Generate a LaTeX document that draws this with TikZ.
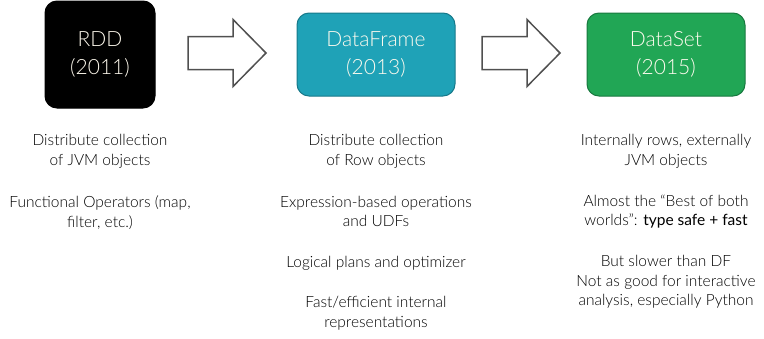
\documentclass[tikz,border=0pt]{standalone}
\usepackage{fontspec}
\setmainfont{Lato}
\newfontfamily\lightfont{Lato Light}
\usepackage{xcolor}

\definecolor{dfteal}{HTML}{1FA2B7}
\definecolor{dfedge}{HTML}{17798A}
\definecolor{dsgreen}{HTML}{21A655}
\definecolor{dsedge}{HTML}{18793F}
\definecolor{arrowgray}{HTML}{505050}
\definecolor{boxtext}{HTML}{FFFBEF}
\definecolor{notetext}{HTML}{000000}

\begin{document}
\begin{tikzpicture}[x=1pt,y=-1pt]
  \tikzset{EraBox/.style={rounded corners=12pt, minimum width=158pt, minimum height=83pt,
      line width=1pt, align=center, text=boxtext, font=\fontsize{21}{28}\selectfont\lightfont}}
  \tikzset{BlockArrow/.style={draw=arrowgray, line width=1.5pt, fill=white, line join=miter}}
  \tikzset{Notes/.style={align=center, text=notetext, inner sep=0pt,
      font=\fontsize{15.5}{19.5}\selectfont\lightfont}}

  \useasboundingbox (0,0) rectangle (764,338);

  % the three APIs
  \node[EraBox, fill=black, draw=black, minimum width=110pt, minimum height=107pt] (RDD) at (100,54.5) {RDD\\(2011)};
  \node[EraBox, fill=dfteal, draw=dfedge] (DF) at (376,54.5) {DataFrame\\(2013)};
  \node[EraBox, fill=dsgreen, draw=dsedge] (DS) at (666,54.5) {DataSet\\(2015)};

  % arrows between them
  \coordinate (A1) at (188,53);
  \coordinate (A2) at (482,53);
  \foreach \a in {A1,A2}
    \draw[BlockArrow] (\a) ++(0,-16.5) -- ++(45,0) -- ++(0,-17) -- ++(33,33.5)
      -- ++(-33,33.5) -- ++(0,-17) -- ++(-45,0) -- cycle;

  % RDD notes
  \node[Notes] (RDDa) at (100,151.5) {Distribute collection\\of JVM objects};
  \node[Notes] (RDDb) at (100,212.5) {Functional Operators (map,\\filter, etc.)};

  % DataFrame notes
  \node[Notes] (DFa) at (376,151.5) {Distribute collection\\of Row objects};
  \node[Notes] (DFb) at (376,211.5) {Expression-based operations\\and UDFs};
  \node[Notes] (DFc) at (376,263) {Logical plans and optimizer};
  \node[Notes] (DFd) at (376,313) {Fast/efficient internal\\representations};

  % DataSet notes
  \node[Notes] (DSa) at (666,151.5) {Internally rows, externally\\JVM objects};
  \node[Notes] (DSb) at (666,211.5) {Almost the “Best of both\\worlds”: {\rmfamily type safe + fast}};
  \node[Notes] (DSc) at (666,282) {But slower than DF\\Not as good for interactive\\analysis, especially Python};
\end{tikzpicture}
\end{document}
